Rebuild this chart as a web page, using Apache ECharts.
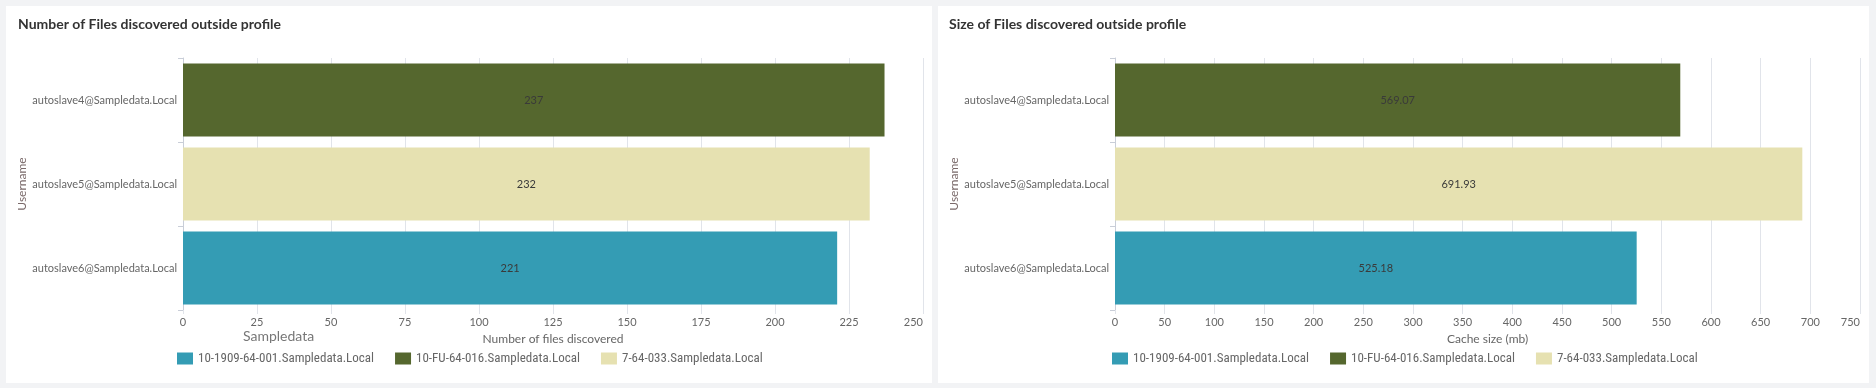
<!DOCTYPE html>
<html>
<head>
<meta charset="utf-8">
<style>
html,body{margin:0;padding:0;background:#f2f3f5;}
#chart{width:1876px;height:388px;}
</style>
<script src="https://cdn.jsdelivr.net/npm/echarts@6/dist/echarts.min.js"></script>
</head>
<body>
<div id="chart"></div>
<script>
// ---- data ----
const categories = ['autoslave4@Sampledata.Local', 'autoslave5@Sampledata.Local', 'autoslave6@Sampledata.Local'];
const hostOfCategory = ['10-FU-64-016.Sampledata.Local', '7-64-033.Sampledata.Local', '10-1909-64-001.Sampledata.Local'];
const legendHosts = ['10-1909-64-001.Sampledata.Local', '10-FU-64-016.Sampledata.Local', '7-64-033.Sampledata.Local'];
const hostColors = ['#349cb4', '#55672e', '#e6e1b1'];
const fileCounts = [237, 232, 221];
const cacheSizes = [569.07, 691.93, 525.18];
const titles = ['Number of Files discovered outside profile', 'Size of Files discovered outside profile'];
const xAxisNames = ['Number of files discovered', 'Cache size (mb)'];
const yAxisName = 'Username';
const legendTitle = 'Sampledata';

const FONT = 'Lato, "Open Sans", sans-serif';
const NARROW = '"Roboto Condensed", Lato, sans-serif';
const labelColor = '#666';

function seriesFor(gridIdx, values, decimals) {
  return legendHosts.map((host, hi) => ({
    name: host,
    type: 'bar',
    stack: 'g' + gridIdx,
    xAxisIndex: gridIdx,
    yAxisIndex: gridIdx,
    barCategoryGap: '13%',
    itemStyle: { color: hostColors[hi] },
    label: {
      show: true, position: 'inside', color: '#3a3a3a', fontSize: 11, fontFamily: FONT,
      formatter: p => decimals ? p.value.toFixed(decimals) : String(p.value)
    },
    data: categories.map((c, ci) => hostOfCategory[ci] === host ? values[ci] : '-')
  }));
}

function xAxis(gridIdx, max, interval, name) {
  return {
    type: 'value', gridIndex: gridIdx, min: 0, max: max, interval: interval,
    name: name, nameLocation: 'middle', nameGap: 21,
    nameTextStyle: { color: labelColor, fontSize: 12, fontFamily: FONT },
    axisLine: { show: false },
    axisTick: { show: true, length: 4, lineStyle: { color: '#e1e4ea' } },
    splitLine: { show: true, lineStyle: { color: '#e1e4ea', width: 1 } },
    axisLabel: { color: labelColor, fontSize: 11, fontFamily: FONT, margin: 7, alignMaxLabel: 'right' }
  };
}
function yAxis(gridIdx) {
  return {
    type: 'category', gridIndex: gridIdx, data: categories, inverse: true,
    name: yAxisName, nameLocation: 'middle', nameGap: 149,
    nameTextStyle: { color: '#7a6a6a', fontSize: 12, fontFamily: FONT },
    axisLine: { show: true, lineStyle: { color: '#c9ced8' } },
    axisTick: { show: true, length: 5, lineStyle: { color: '#c9ced8' } },
    axisLabel: { color: labelColor, fontSize: 11, fontFamily: FONT, margin: 6 }
  };
}
function legend(left) {
  return {
    data: legendHosts, left: left, top: 352, padding: 0, itemWidth: 16, itemHeight: 12, itemGap: 21,
    icon: 'rect', textStyle: { color: labelColor, fontSize: 13, fontFamily: NARROW }
  };
}

const chart = echarts.init(document.getElementById('chart'), null, { renderer: 'canvas' });
chart.setOption({
  backgroundColor: '#f2f3f5',
  animation: false,
  graphic: [
    { type: 'rect', z: -10, shape: { x: 6, y: 6, width: 926, height: 377 }, style: { fill: '#ffffff' } },
    { type: 'rect', z: -10, shape: { x: 938, y: 6, width: 931, height: 377 }, style: { fill: '#ffffff' } },
    { type: 'text', left: 243, top: 329, style: { text: legendTitle, fill: '#777', fontSize: 14, fontFamily: FONT } }
  ],
  title: [
    { text: titles[0], left: 18, top: 17, padding: 0, textStyle: { color: '#333', fontSize: 14, fontWeight: 'bold', fontFamily: FONT } },
    { text: titles[1], left: 949, top: 17, padding: 0, textStyle: { color: '#333', fontSize: 14, fontWeight: 'bold', fontFamily: FONT } }
  ],
  legend: [legend(177), legend(1112)],
  grid: [
    { left: 183, right: 953, top: 58, bottom: 78, containLabel: false },
    { left: 1115, right: 16, top: 58, bottom: 78, containLabel: false }
  ],
  xAxis: [xAxis(0, 250, 25, xAxisNames[0]), xAxis(1, 750, 50, xAxisNames[1])],
  yAxis: [yAxis(0), yAxis(1)],
  series: seriesFor(0, fileCounts, 0).concat(seriesFor(1, cacheSizes, 2))
});
</script>
</body>
</html>
